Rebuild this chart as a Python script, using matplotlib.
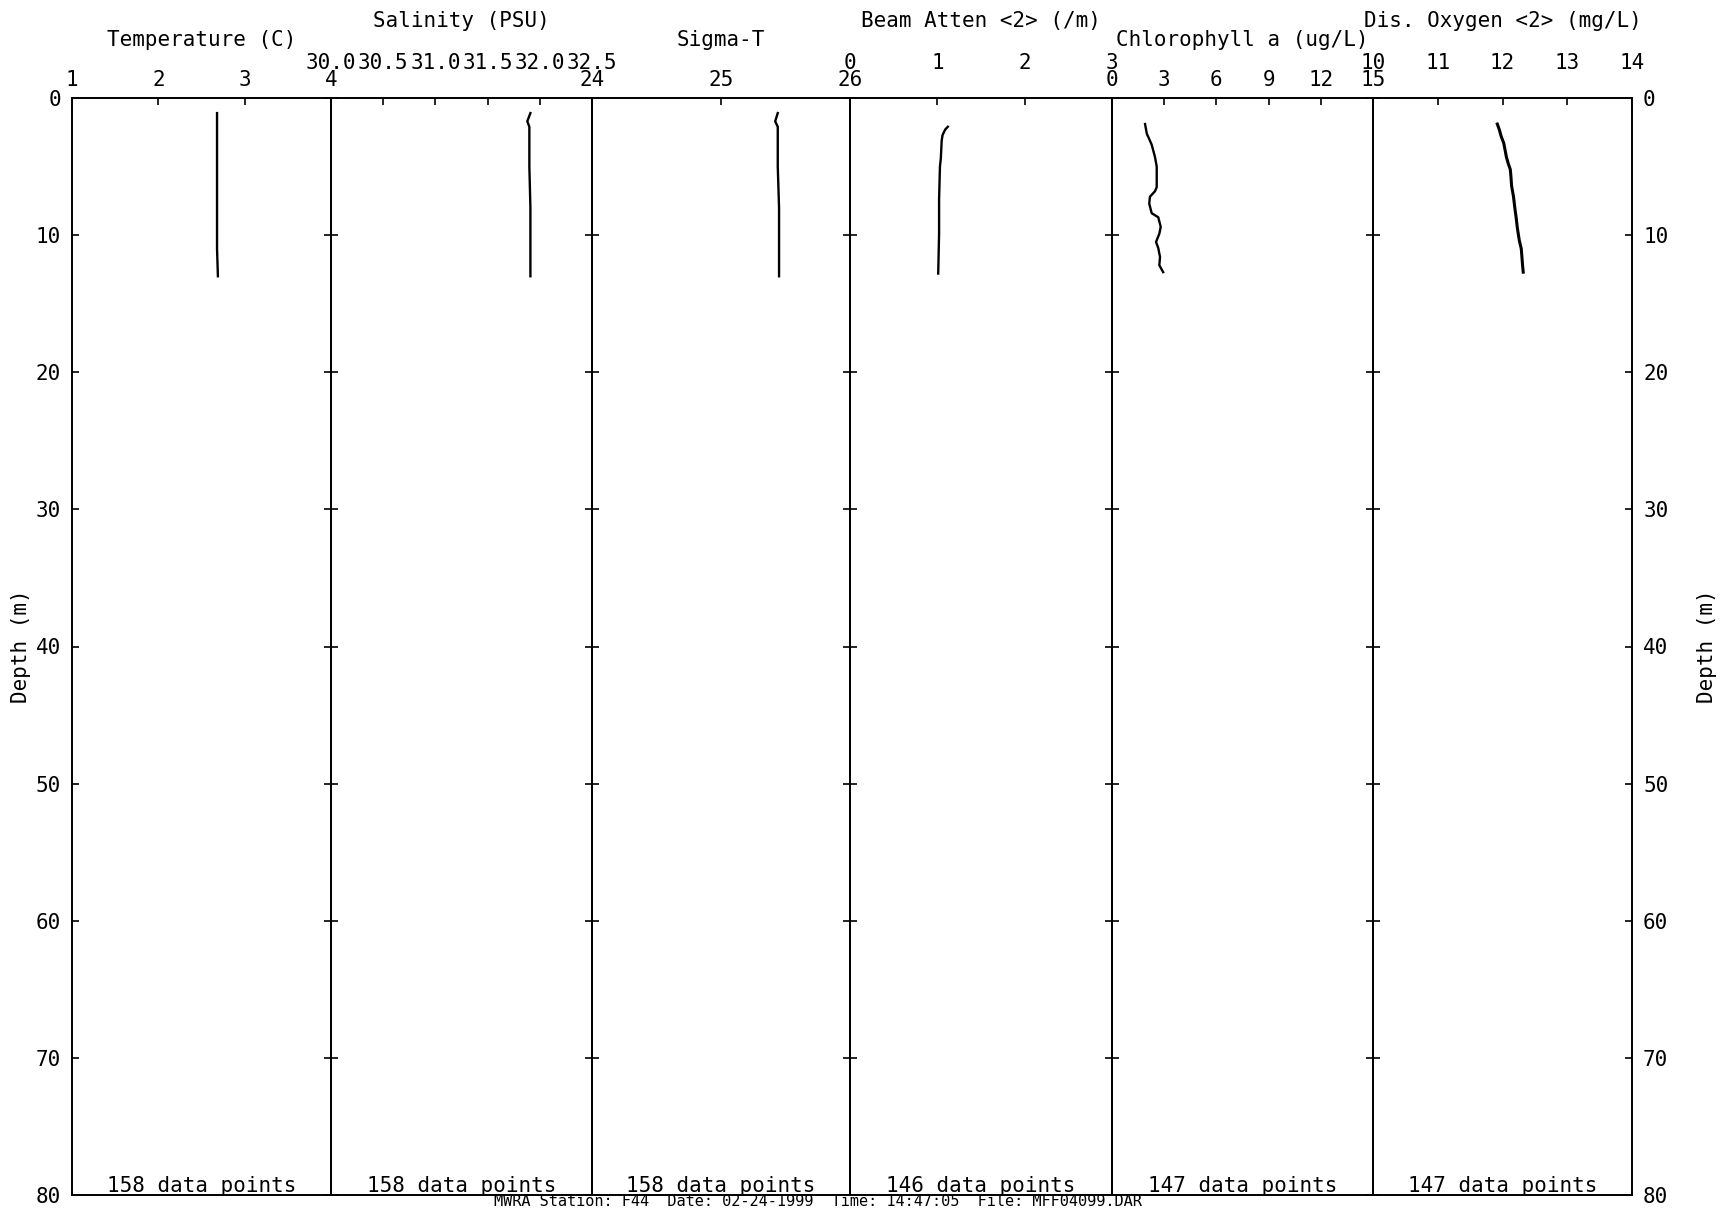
import matplotlib
matplotlib.use('Agg')
import matplotlib.pyplot as plt

plt.rcParams['font.family'] = ['DejaVu Sans Mono', 'DejaVu Sans']

# ---------------- data ----------------
titles = ["Temperature (C)", "Salinity (PSU)", "Sigma-T",
          "Beam Atten <2> (/m)", "Chlorophyll a (ug/L)", "Dis. Oxygen <2> (mg/L)"]
n_points = [158, 158, 158, 146, 147, 147]

temp_ticks = [1, 2, 3, 4]
sal_ticks = [30.0, 30.5, 31.0, 31.5, 32.0, 32.5]
sig_ticks = [24, 25, 26]
beam_ticks = [0, 1, 2, 3]
chl_ticks = [0, 3, 6, 9, 12, 15]
oxy_ticks = [10, 11, 12, 13, 14]

temp_depth = [1.1, 3.0, 5.0, 7.0, 9.0, 11.0, 13.0]
temp_vals = [2.68, 2.68, 2.68, 2.68, 2.68, 2.68, 2.69]

sal_depth = [1.1, 1.7, 2.1, 5.0, 8.0, 11.0, 13.0]
sal_vals = [31.91, 31.88, 31.90, 31.90, 31.91, 31.91, 31.91]

sig_depth = [1.1, 1.7, 2.1, 5.0, 8.0, 11.0, 13.0]
sig_vals = [25.44, 25.42, 25.44, 25.44, 25.45, 25.45, 25.45]

beam_depth = [2.1, 2.3, 2.7, 3.1, 4.4, 5.0, 7.4, 9.9, 12.8]
beam_vals = [1.12, 1.09, 1.06, 1.05, 1.04, 1.03, 1.02, 1.02, 1.01]

chl_depth = [1.9, 2.6, 3.4, 4.3, 5.0, 6.5, 6.8, 7.2, 7.7, 8.4, 8.7, 9.4, 9.9,
             10.5, 10.95, 11.6, 12.2, 12.7]
chl_vals = [1.9, 2.0, 2.28, 2.47, 2.57, 2.57, 2.47, 2.18, 2.14, 2.28, 2.66, 2.8,
            2.72, 2.53, 2.66, 2.76, 2.72, 2.94]

oxy_depth = [1.9, 2.3, 2.8, 3.3, 3.8, 4.3, 4.8, 5.2, 5.7, 6.4, 7.2, 8.0, 8.7,
             9.5, 10.4, 11.0, 11.6, 12.2, 12.7]
oxy_vals = [11.92, 11.95, 11.98, 12.02, 12.04, 12.06, 12.09, 12.12, 12.13, 12.14,
            12.17, 12.19, 12.21, 12.23, 12.26, 12.29, 12.30, 12.31, 12.32]

depth_ticks = [0, 10, 20, 30, 40, 50, 60, 70, 80]
footer = "MWRA Station: F44  Date: 02-24-1999  Time: 14:47:05  File: MFF04099.DAR"

series = [
    (temp_depth, temp_vals, temp_ticks, ["1", "2", "3", "4"]),
    (sal_depth, sal_vals, sal_ticks, ["30.0", "30.5", "31.0", "31.5", "32.0", "32.5"]),
    (sig_depth, sig_vals, sig_ticks, ["24", "25", "26"]),
    (beam_depth, beam_vals, beam_ticks, ["0", "1", "2", "3"]),
    (chl_depth, chl_vals, chl_ticks, ["0", "3", "6", "9", "12", "15"]),
    (oxy_depth, oxy_vals, oxy_ticks, ["10", "11", "12", "13", "14"]),
]

# ---------------- layout ----------------
W, H = 1729, 1210
fig = plt.figure(figsize=(W / 100, H / 100), dpi=100)
edges = [72, 331, 592, 850, 1112, 1373, 1632]
top_px, bot_px = 98, 1195
FS = 15

axes = []
for i, (dep, val, ticks, tlabels) in enumerate(series):
    x0 = edges[i] / W
    w = (edges[i + 1] - edges[i]) / W
    ax = fig.add_axes([x0, 1 - bot_px / H, w, (bot_px - top_px) / H])
    axes.append(ax)
    ax.plot(val, dep, color='black', lw=1.7 if i != 5 else 2.2, solid_joinstyle='round')
    ax.set_xlim(ticks[0], ticks[-1])
    ax.set_ylim(80, 0)
    low = (i % 2 == 0)
    ax.xaxis.set_ticks_position('top')
    ax.xaxis.set_label_position('top')
    ax.set_xticks(ticks)
    ax.set_xticklabels(tlabels)
    ax.tick_params(axis='x', direction='in', length=5, width=1.2,
                   pad=5.8 if low else 18, labelsize=FS)
    ax.set_yticks(depth_ticks)
    ax.tick_params(axis='y', direction='in', length=5, width=1.2, left=True, right=True,
                   labelleft=(i == 0), labelright=(i == 5), labelsize=FS, pad=8)
    for s in ax.spines.values():
        s.set_linewidth(1.4)
    ax.annotate(titles[i], xy=(0.5, 1), xycoords='axes fraction',
                xytext=(0, 37.4 if low else 51), textcoords='offset points',
                ha='center', va='baseline', fontsize=FS)
    ax.annotate(f"{n_points[i]} data points", xy=(0.5, 0), xycoords='axes fraction',
                xytext=(0, 2), textcoords='offset points',
                ha='center', va='baseline', fontsize=FS)
    ax.set_facecolor('none')

axes[0].set_ylabel("Depth (m)", fontsize=FS)
axes[0].yaxis.set_label_coords(-(72 - 31) / (edges[1] - edges[0]), 0.5)
axes[5].yaxis.set_label_position('right')
axes[5].set_ylabel("Depth (m)", fontsize=FS, rotation=90)
axes[5].yaxis.set_label_coords(1 + (1697 - 1632) / (edges[6] - edges[5]), 0.5)

fig.text(818 / W, 0.5 / H, footer, ha='center', va='bottom', fontsize=11)

fig.savefig("out.png", dpi=100, facecolor='white')
